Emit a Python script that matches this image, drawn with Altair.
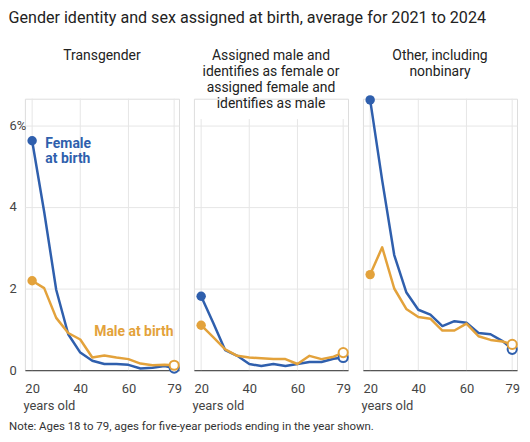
import altair as alt
import pandas as pd

# ---------------- data ----------------
ages = [20, 25, 30, 35, 40, 45, 50, 55, 60, 65, 70, 75, 79]
series_names = ["Female at birth", "Male at birth"]
panel_titles = [
    "Transgender",
    "Assigned male and\nidentifies as female or\nassigned female and\nidentifies as male",
    "Other, including\nnonbinary",
]
main_title = "Gender identity and sex assigned at birth, average for 2021 to 2024"
note_text = "Note: Ages 18 to 79, ages for five-year periods ending in the year shown."

transgender_female = [5.62, 3.88, 1.97, 0.88, 0.43, 0.23, 0.15, 0.15, 0.13, 0.04, 0.06, 0.10, 0.05]
transgender_male = [2.19, 2.01, 1.28, 0.91, 0.75, 0.31, 0.36, 0.31, 0.27, 0.16, 0.12, 0.13, 0.12]
cross_female = [1.81, 1.16, 0.49, 0.35, 0.15, 0.10, 0.15, 0.10, 0.15, 0.20, 0.20, 0.28, 0.31]
cross_male = [1.10, 0.81, 0.51, 0.35, 0.31, 0.29, 0.27, 0.27, 0.15, 0.35, 0.27, 0.33, 0.43]
other_female = [6.62, 4.65, 2.82, 1.91, 1.48, 1.36, 1.08, 1.20, 1.16, 0.91, 0.88, 0.71, 0.51]
other_male = [2.34, 3.01, 2.00, 1.50, 1.30, 1.26, 0.97, 0.97, 1.14, 0.83, 0.74, 0.70, 0.63]

x_ticks = [20, 40, 60, 79]
y_ticks = [0, 2, 4, 6]

# annotation labels (data positions: age, value)
female_label = "Female\nat birth"
female_label_age = 25.5
female_label_value = 5.72
male_label = "Male at birth"
male_label_age = 45.8
male_label_value = 0.93

# ---------------- style ----------------
BLUE = "#2f5fad"
ORANGE = "#e3a23b"
GRID = "#e6e6e6"
FONT = "Roboto"
W, H = 155, 273
YMAX = 6.65
GRID_TOPS = [YMAX, 6.15, YMAX]

color_scale = alt.Scale(domain=series_names, range=[BLUE, ORANGE])


def make_panel(i, female, male):
    first = i == 0
    df = pd.DataFrame({
        "age": ages + ages,
        "value": female + male,
        "sex": [series_names[0]] * len(ages) + [series_names[1]] * len(ages),
    })
    xs = alt.Scale(domain=[17, 81], nice=False, zero=False)
    ys = alt.Scale(domain=[0, YMAX], nice=False)
    xaxis = alt.Axis(
        values=x_ticks, format="d", title="years old", grid=False,
        ticks=False, tickSize=0, domainColor="#555", domainWidth=1.5,
        labelPadding=13, labelFontSize=13, labelColor="#444", labelFont=FONT,
        titleAnchor="start", titleAlign="left", titleX=-2, titleY=36,
        titleBaseline="middle", titleFontSize=13, titleFontWeight="normal",
        titleColor="#444", titleFont=FONT, labelFlush=False,
    )
    yaxis = alt.Axis(
        values=y_ticks, grid=True, gridColor=GRID, ticks=False, tickSize=0,
        domain=False, labels=first, title=None, labelAlign="left",
        labelPadding=16, labelFontSize=13, labelColor="#444", labelFont=FONT,
        labelExpr="datum.value == 6 ? '6%' : datum.label",
    )
    base = alt.Chart(df)
    x = alt.X("age:Q", scale=xs, axis=xaxis)
    y = alt.Y("value:Q", scale=ys, axis=yaxis)
    col = alt.Color("sex:N", scale=color_scale, legend=None)

    grid = alt.Chart(pd.DataFrame({"age": x_ticks})).mark_rule(
        color=GRID, strokeWidth=1
    ).encode(
        x=alt.X("age:Q", scale=xs),
        y=alt.datum(0),
        y2=alt.datum(GRID_TOPS[i]),
    )
    lines = base.mark_line(strokeWidth=2.5, strokeJoin="round").encode(x=x, y=y, color=col)
    start = base.transform_filter(alt.datum.age == ages[0]).mark_circle(
        size=90, opacity=1
    ).encode(x=x, y=y, color=col)
    end = base.transform_filter(alt.datum.age == ages[-1]).mark_point(
        shape="circle", size=85, fill="white", filled=False, strokeWidth=2, opacity=1
    ).encode(x=x, y=y, color=col)

    title = alt.Chart(pd.DataFrame({"t": [panel_titles[i]]})).mark_text(
        font=FONT, fontSize=14, color="#222", align="center", baseline="top",
        lineBreak="\n", lineHeight=15.8,
    ).encode(text="t:N", x=alt.value(W / 2), y=alt.value(-49.5))

    layers = [grid, lines, start, end, title]

    if first:
        fl = alt.Chart(pd.DataFrame({
            "age": [female_label_age], "value": [female_label_value], "t": [female_label]
        })).mark_text(
            font=FONT, fontSize=14, fontWeight="bold", color=BLUE, align="left",
            baseline="top", lineBreak="\n", lineHeight=15.5,
        ).encode(x=alt.X("age:Q", scale=xs), y=alt.Y("value:Q", scale=ys), text="t:N")
        ml = alt.Chart(pd.DataFrame({
            "age": [male_label_age], "value": [male_label_value], "t": [male_label]
        })).mark_text(
            font=FONT, fontSize=14, fontWeight="bold", color=ORANGE, align="left", baseline="middle"
        ).encode(x=alt.X("age:Q", scale=xs), y=alt.Y("value:Q", scale=ys), text="t:N")
        note = alt.Chart(pd.DataFrame({"t": [note_text]})).mark_text(
            font=FONT, fontSize=11.5, color="#333", align="left", baseline="middle"
        ).encode(text="t:N", x=alt.value(-16), y=alt.value(330))
        layers += [fl, ml, note]

    return alt.layer(*layers).properties(width=W, height=H)


panels = [
    make_panel(0, transgender_female, transgender_male),
    make_panel(1, cross_female, cross_male),
    make_panel(2, other_female, other_male),
]

chart = alt.hconcat(*panels, spacing=15, bounds="flush").properties(
    title=alt.TitleParams(
        text=main_title, anchor="start", frame="bounds", fontSize=16.2,
        font=FONT, fontWeight="normal", color="#222", offset=23,
    ),
    padding=0,
).configure_view(stroke=None).configure(background="white")

chart.save("out.html", embed_options={"renderer": "svg", "actions": False})
